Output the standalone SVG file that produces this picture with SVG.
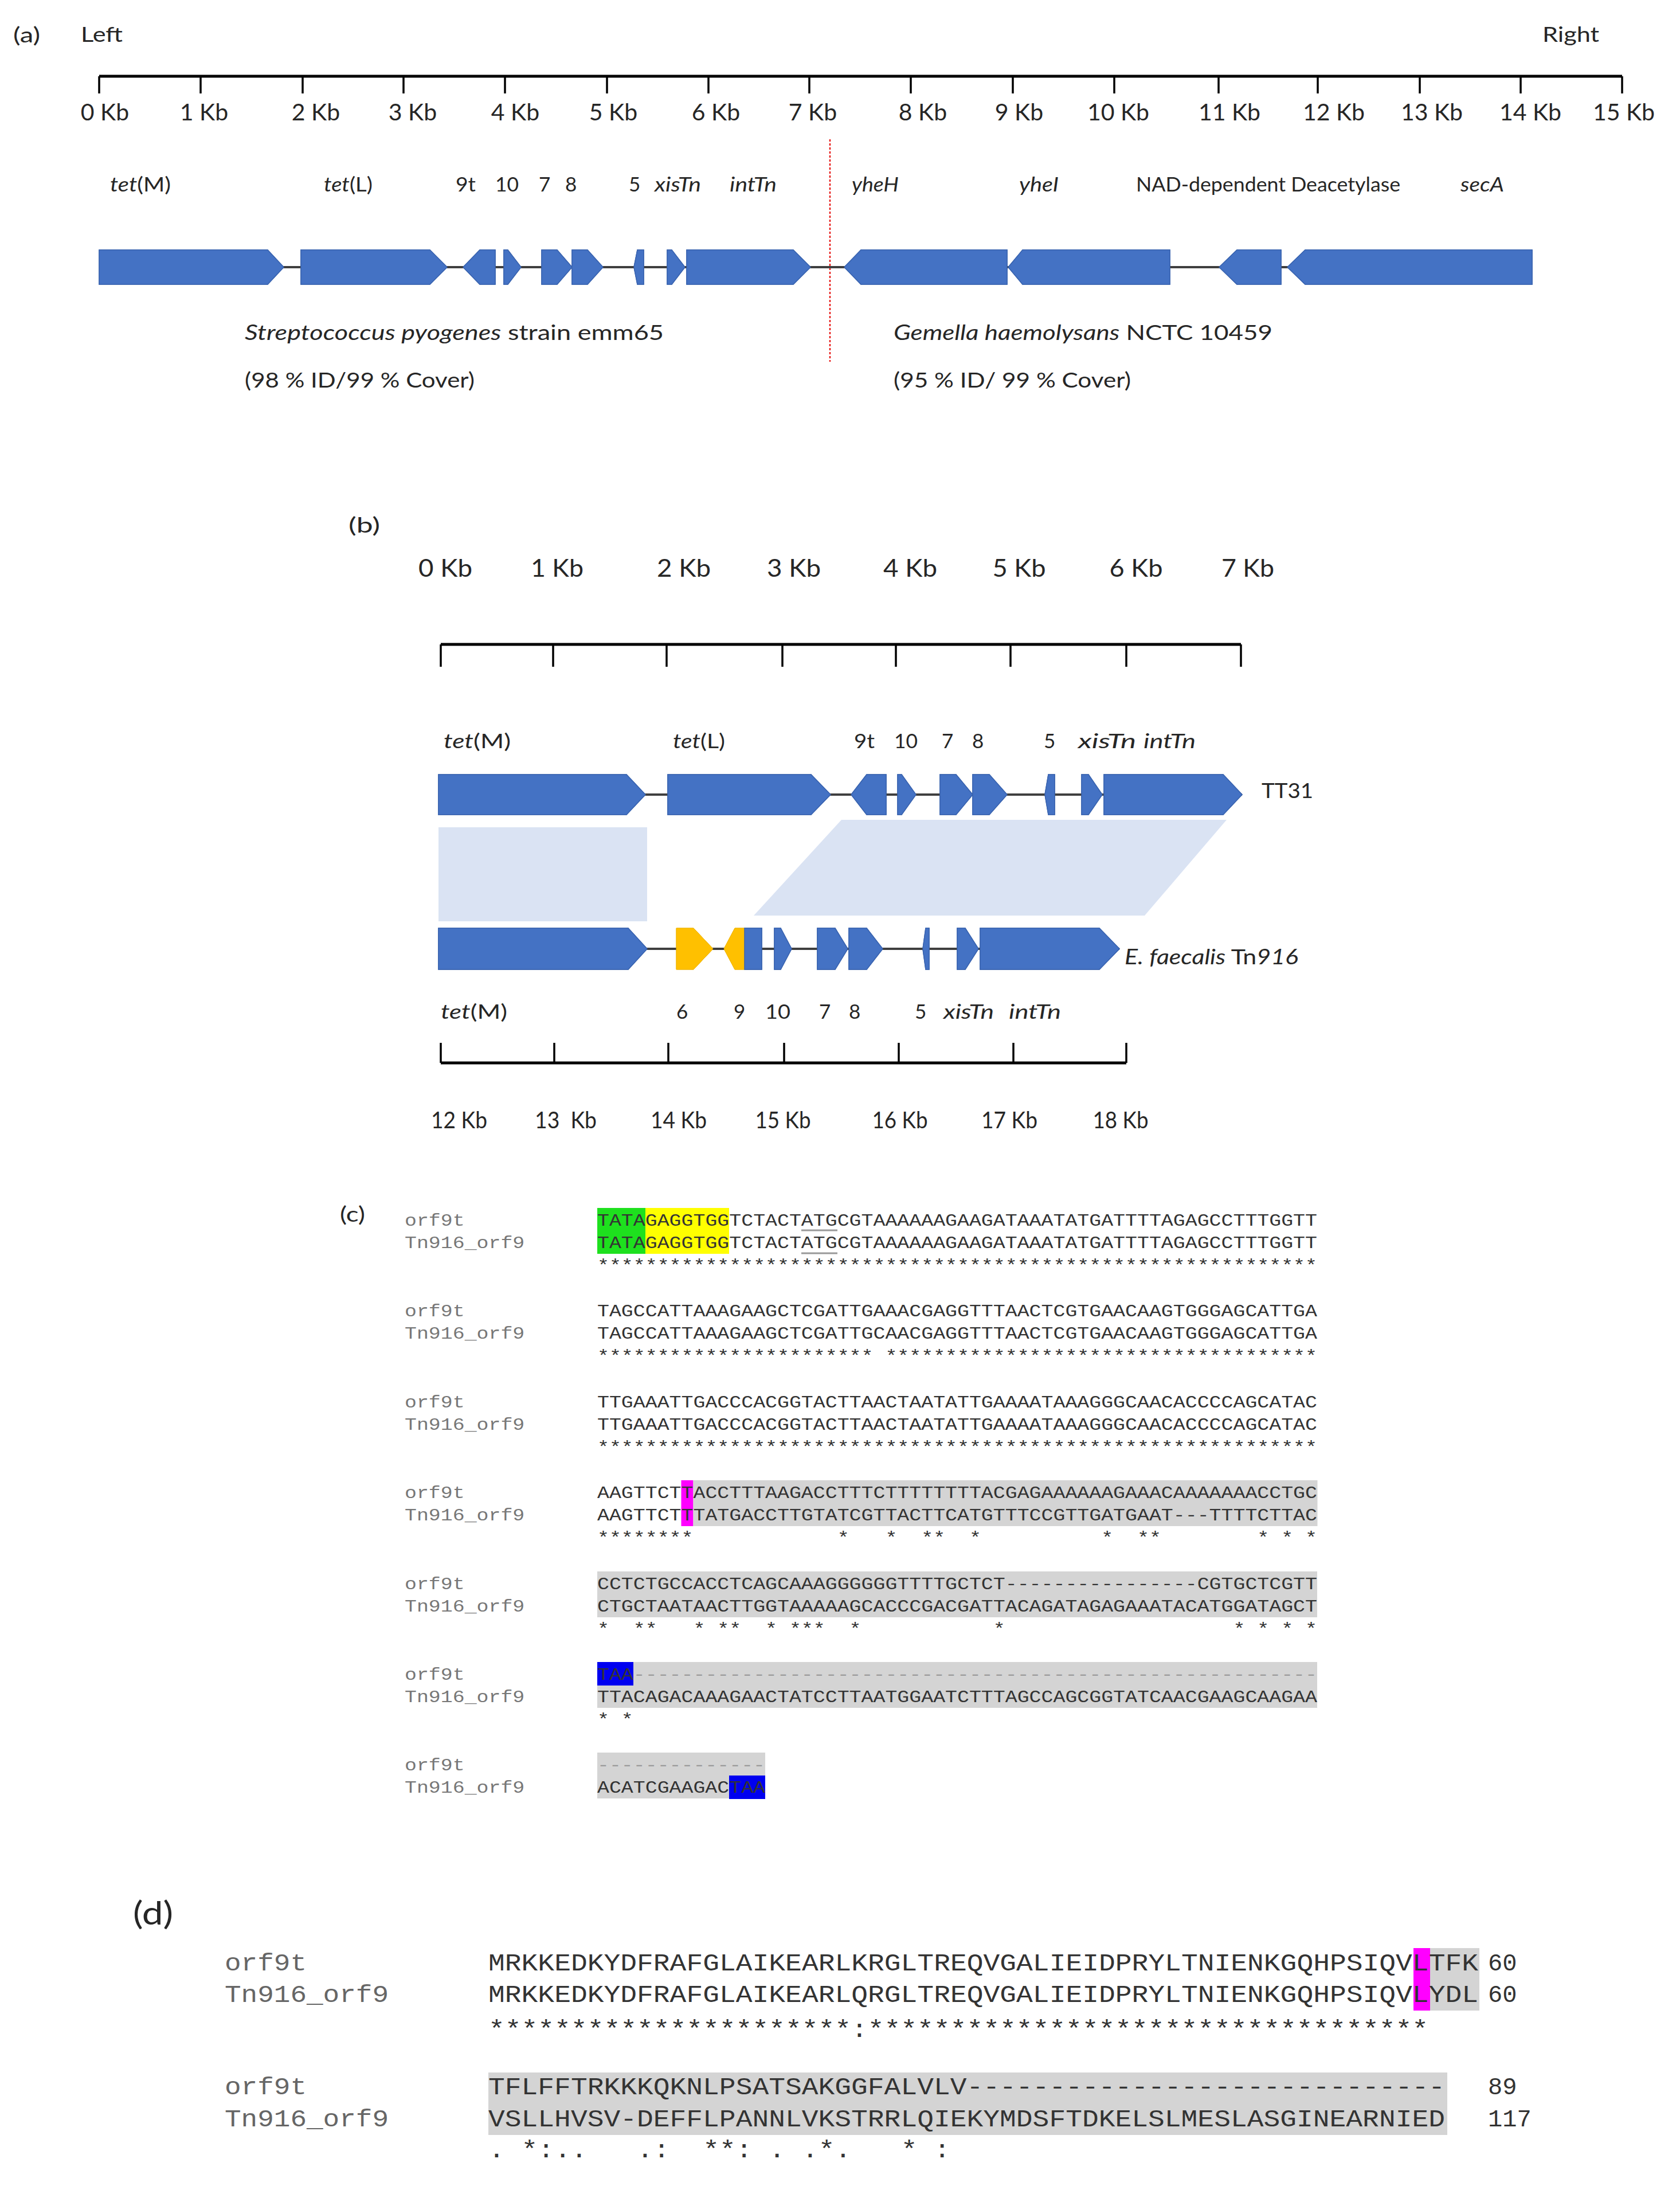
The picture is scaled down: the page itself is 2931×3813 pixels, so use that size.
<svg xmlns="http://www.w3.org/2000/svg" width="2931" height="3813" viewBox="0 0 2931 3813">
<style>
.cal{font-family:Lato,"Open Sans","Liberation Sans",sans-serif;fill:#262626}
.it{font-style:italic}
.kb{font-size:41px;text-anchor:middle}
.kbb{font-size:42px;text-anchor:middle}
.kbc{font-size:40px;text-anchor:middle}
.gl{font-size:35px}
.pl{font-size:37px}
.org{font-size:37px}
.gene{fill:#4472C4;stroke:#3A64B0;stroke-width:1.5}
.yel{fill:#FFC000;stroke:#F0B400;stroke-width:1}
.bb{stroke:#3f3f3f;stroke-width:4}
.axis{stroke:#000;stroke-width:5;fill:none}
.tick{stroke:#000;stroke-width:3.5}
.shade{fill:#DAE3F3}
.mono{font-family:"Liberation Mono","DejaVu Sans Mono",monospace}
.sc{font-size:30px;fill:#333}
.lc{font-size:30px;fill:#777}
.sd{font-size:42px;fill:#333}
.ld{font-size:42px;fill:#666}
.gap{fill:#9a9a9a}
.hgray{fill:#D4D4D4}
</style>
<rect x="0" y="0" width="2931" height="3813" fill="#fff"/>

<!-- ================= PANEL A ================= -->
<g id="panel-a">
  <g id="a-titles" class="cal pl">
    <text x="23" y="74" textLength="47" lengthAdjust="spacingAndGlyphs">(a)</text>
    <text x="141" y="73" textLength="73" lengthAdjust="spacingAndGlyphs">Left</text>
    <text x="2691" y="73" textLength="99" lengthAdjust="spacingAndGlyphs">Right</text>
  </g>
  <g id="a-axis">
    <line class="axis" x1="173" y1="133" x2="2830" y2="133"/>
    <g class="tick">
      <line x1="173" y1="133" x2="173" y2="163"/>
      <line x1="350" y1="133" x2="350" y2="163"/>
      <line x1="528" y1="133" x2="528" y2="163"/>
      <line x1="704" y1="133" x2="704" y2="163"/>
      <line x1="881" y1="133" x2="881" y2="163"/>
      <line x1="1059" y1="133" x2="1059" y2="163"/>
      <line x1="1236" y1="133" x2="1236" y2="163"/>
      <line x1="1412" y1="133" x2="1412" y2="163"/>
      <line x1="1589" y1="133" x2="1589" y2="163"/>
      <line x1="1767" y1="133" x2="1767" y2="163"/>
      <line x1="1944" y1="133" x2="1944" y2="163"/>
      <line x1="2126" y1="133" x2="2126" y2="163"/>
      <line x1="2299" y1="133" x2="2299" y2="163"/>
      <line x1="2477" y1="133" x2="2477" y2="163"/>
      <line x1="2653" y1="133" x2="2653" y2="163"/>
      <line x1="2830" y1="133" x2="2830" y2="163"/>
    </g>
    <g class="cal kb">
      <text x="183" y="210">0 Kb</text>
      <text x="356" y="210">1 Kb</text>
      <text x="551" y="210">2 Kb</text>
      <text x="720" y="210">3 Kb</text>
      <text x="899" y="210">4 Kb</text>
      <text x="1070" y="210">5 Kb</text>
      <text x="1249" y="210">6 Kb</text>
      <text x="1418" y="210">7 Kb</text>
      <text x="1610" y="210">8 Kb</text>
      <text x="1778" y="210">9 Kb</text>
      <text x="1951" y="210">10 Kb</text>
      <text x="2145" y="210">11 Kb</text>
      <text x="2327" y="210">12 Kb</text>
      <text x="2498" y="210">13 Kb</text>
      <text x="2670" y="210">14 Kb</text>
      <text x="2833" y="210">15 Kb</text>
    </g>
  </g>
  <line id="a-junction" x1="1448" y1="243" x2="1448" y2="631" stroke="#E8201E" stroke-width="2.5" stroke-dasharray="4 3"/>
  <g id="a-gene-labels" class="cal gl">
    <text x="192" y="334" textLength="106" lengthAdjust="spacingAndGlyphs"><tspan class="it">tet</tspan>(M)</text>
    <text x="565" y="334" textLength="85" lengthAdjust="spacingAndGlyphs"><tspan class="it">tet</tspan>(L)</text>
    <text x="795" y="334" textLength="35" lengthAdjust="spacingAndGlyphs">9t</text>
    <text x="864" y="334" textLength="41" lengthAdjust="spacingAndGlyphs">10</text>
    <text x="940" y="334">7</text>
    <text x="986" y="334">8</text>
    <text x="1097" y="334">5</text>
    <text x="1142" y="334" textLength="81" lengthAdjust="spacingAndGlyphs" class="it">xisTn</text>
    <text x="1273" y="334" textLength="82" lengthAdjust="spacingAndGlyphs" class="it">intTn</text>
    <text x="1486" y="334" textLength="82" lengthAdjust="spacingAndGlyphs" class="it">yheH</text>
    <text x="1778" y="334" textLength="69" lengthAdjust="spacingAndGlyphs" class="it">yheI</text>
    <text x="1982" y="334" textLength="461" lengthAdjust="spacingAndGlyphs">NAD-dependent Deacetylase</text>
    <text x="2548" y="334" textLength="76" lengthAdjust="spacingAndGlyphs" class="it">secA</text>
  </g>
  <g id="a-genes">
    <path id="a-tetM" class="gene" d="M173,436 L467,436 L495,466 L467,496 L173,496 Z"/>
    <path id="a-tetL" class="gene" d="M525,436 L750,436 L780,466 L750,496 L525,496 Z"/>
    <path id="a-9t" class="gene" d="M808,466 L837,436 L864,436 L864,496 L837,496 Z"/>
    <path id="a-10" class="gene" d="M879,436 L886,436 L909,466 L886,496 L879,496 Z"/>
    <path id="a-7" class="gene" d="M945,436 L972,436 L998,466 L972,496 L945,496 Z"/>
    <path id="a-8" class="gene" d="M998,436 L1025,436 L1052,466 L1025,496 L998,496 Z"/>
    <path id="a-5" class="gene" d="M1106,466 L1112,436 L1123,436 L1123,496 L1112,496 Z"/>
    <path id="a-xisTn" class="gene" d="M1164,436 L1172,436 L1195,466 L1172,496 L1164,496 Z"/>
    <path id="a-intTn" class="gene" d="M1198,436 L1384,436 L1414,466 L1384,496 L1198,496 Z"/>
    <path id="a-yheH" class="gene" d="M1473,466 L1502,436 L1757,436 L1757,496 L1502,496 Z"/>
    <path id="a-yheI" class="gene" d="M1759,466 L1784,436 L2041,436 L2041,496 L1784,496 Z"/>
    <path id="a-NAD" class="gene" d="M2127,466 L2158,436 L2235,436 L2235,496 L2158,496 Z"/>
    <path id="a-secA" class="gene" d="M2246,466 L2277,436 L2673,436 L2673,496 L2277,496 Z"/>
  </g>
  <g id="a-organisms" class="cal org">
    <text x="427" y="593" textLength="731" lengthAdjust="spacingAndGlyphs"><tspan class="it">Streptococcus pyogenes</tspan> strain emm65</text>
    <text x="427" y="676" textLength="401" lengthAdjust="spacingAndGlyphs">(98 % ID/99 % Cover)</text>
    <text x="1559" y="593" textLength="661" lengthAdjust="spacingAndGlyphs"><tspan class="it">Gemella haemolysans</tspan> NCTC 10459</text>
    <text x="1559" y="676" textLength="414" lengthAdjust="spacingAndGlyphs">(95 % ID/ 99 % Cover)</text>
  </g>
</g>

<!-- ================= PANEL B ================= -->
<g id="panel-b">
  <text id="b-title" class="cal pl" x="608" y="929" textLength="55" lengthAdjust="spacingAndGlyphs">(b)</text>
  <g id="b-axis-top">
    <g class="cal kbb">
      <text x="777" y="1006" textLength="94" lengthAdjust="spacingAndGlyphs">0 Kb</text>
      <text x="972" y="1006" textLength="92" lengthAdjust="spacingAndGlyphs">1 Kb</text>
      <text x="1193" y="1006" textLength="94" lengthAdjust="spacingAndGlyphs">2 Kb</text>
      <text x="1385" y="1006" textLength="94" lengthAdjust="spacingAndGlyphs">3 Kb</text>
      <text x="1588" y="1006" textLength="94" lengthAdjust="spacingAndGlyphs">4 Kb</text>
      <text x="1778" y="1006" textLength="93" lengthAdjust="spacingAndGlyphs">5 Kb</text>
      <text x="1982" y="1006" textLength="93" lengthAdjust="spacingAndGlyphs">6 Kb</text>
      <text x="2177" y="1006" textLength="92" lengthAdjust="spacingAndGlyphs">7 Kb</text>
    </g>
    <line class="axis" x1="769" y1="1124" x2="2165" y2="1124"/>
    <g class="tick">
      <line x1="769" y1="1124" x2="769" y2="1163"/>
      <line x1="965" y1="1124" x2="965" y2="1163"/>
      <line x1="1163" y1="1124" x2="1163" y2="1163"/>
      <line x1="1365" y1="1124" x2="1365" y2="1163"/>
      <line x1="1563" y1="1124" x2="1563" y2="1163"/>
      <line x1="1763" y1="1124" x2="1763" y2="1163"/>
      <line x1="1965" y1="1124" x2="1965" y2="1163"/>
      <line x1="2165" y1="1124" x2="2165" y2="1163"/>
    </g>
  </g>
  <g id="b-tt31-labels" class="cal gl">
    <text x="774" y="1305" textLength="117" lengthAdjust="spacingAndGlyphs"><tspan class="it">tet</tspan>(M)</text>
    <text x="1174" y="1305" textLength="91" lengthAdjust="spacingAndGlyphs"><tspan class="it">tet</tspan>(L)</text>
    <text x="1490" y="1305" textLength="36" lengthAdjust="spacingAndGlyphs">9t</text>
    <text x="1560" y="1305" textLength="41" lengthAdjust="spacingAndGlyphs">10</text>
    <text x="1643" y="1305">7</text>
    <text x="1696" y="1305">8</text>
    <text x="1821" y="1305">5</text>
    <text x="1881" y="1305" textLength="101" lengthAdjust="spacingAndGlyphs" class="it">xisTn</text>
    <text x="1995" y="1305" textLength="91" lengthAdjust="spacingAndGlyphs" class="it">intTn</text>
  </g>
  <g id="b-tt31-genes">
    <path class="gene" d="M765,1351 L1093,1351 L1126,1386 L1093,1421 L765,1421 Z"/>
    <path class="gene" d="M1165,1351 L1415,1351 L1449,1386 L1415,1421 L1165,1421 Z"/>
    <path class="gene" d="M1485,1386 L1512,1351 L1546,1351 L1546,1421 L1512,1421 Z"/>
    <path class="gene" d="M1566,1351 L1573,1351 L1598,1386 L1573,1421 L1566,1421 Z"/>
    <path class="gene" d="M1640,1351 L1668,1351 L1697,1386 L1668,1421 L1640,1421 Z"/>
    <path class="gene" d="M1697,1351 L1726,1351 L1757,1386 L1726,1421 L1697,1421 Z"/>
    <path class="gene" d="M1823,1386 L1829,1351 L1840,1351 L1840,1421 L1829,1421 Z"/>
    <path class="gene" d="M1887,1351 L1899,1351 L1923,1386 L1899,1421 L1887,1421 Z"/>
    <path class="gene" d="M1926,1351 L2134,1351 L2167,1386 L2134,1421 L1926,1421 Z"/>
  </g>
  <text id="b-tt31-name" class="cal pl" x="2201" y="1392" textLength="90" lengthAdjust="spacingAndGlyphs">TT31</text>
  <g id="b-tn916-genes">
    <path class="gene" d="M765,1619 L1096,1619 L1129,1655 L1096,1691 L765,1691 Z"/>
    <path class="yel" d="M1180,1619 L1210,1619 L1244,1655 L1210,1691 L1180,1691 Z"/>
    <path class="yel" d="M1263,1655 L1282,1619 L1299,1619 L1299,1691 L1282,1691 Z"/>
    <rect class="gene" x="1299" y="1619" width="30" height="72"/>
    <path class="gene" d="M1351,1619 L1362,1619 L1381,1655 L1362,1691 L1351,1691 Z"/>
    <path class="gene" d="M1426,1619 L1457,1619 L1479,1655 L1457,1691 L1426,1691 Z"/>
    <path class="gene" d="M1481,1619 L1512,1619 L1540,1655 L1512,1691 L1481,1691 Z"/>
    <path class="gene" d="M1610,1655 L1615,1619 L1621,1619 L1621,1691 L1615,1691 Z"/>
    <path class="gene" d="M1670,1619 L1684,1619 L1707,1655 L1684,1691 L1670,1691 Z"/>
    <path class="gene" d="M1710,1619 L1918,1619 L1953,1655 L1918,1691 L1710,1691 Z"/>
  </g>
  <text id="b-tn916-name" class="cal pl" x="1962" y="1682" textLength="303" lengthAdjust="spacingAndGlyphs"><tspan class="it">E. faecalis</tspan> Tn<tspan class="it">916</tspan></text>
  <g id="b-tn916-labels" class="cal gl">
    <text x="769" y="1777" textLength="116" lengthAdjust="spacingAndGlyphs"><tspan class="it">tet</tspan>(M)</text>
    <text x="1180" y="1777">6</text>
    <text x="1280" y="1777">9</text>
    <text x="1335" y="1777" textLength="44" lengthAdjust="spacingAndGlyphs">10</text>
    <text x="1429" y="1777">7</text>
    <text x="1481" y="1777">8</text>
    <text x="1596" y="1777">5</text>
    <text x="1646" y="1777" textLength="88" lengthAdjust="spacingAndGlyphs" class="it">xisTn</text>
    <text x="1760" y="1777" textLength="91" lengthAdjust="spacingAndGlyphs" class="it">intTn</text>
  </g>
  <g id="b-axis-bottom">
    <line class="axis" x1="769" y1="1854" x2="1965" y2="1854"/>
    <g class="tick">
      <line x1="769" y1="1819" x2="769" y2="1854"/>
      <line x1="967" y1="1819" x2="967" y2="1854"/>
      <line x1="1166" y1="1819" x2="1166" y2="1854"/>
      <line x1="1368" y1="1819" x2="1368" y2="1854"/>
      <line x1="1568" y1="1819" x2="1568" y2="1854"/>
      <line x1="1768" y1="1819" x2="1768" y2="1854"/>
      <line x1="1965" y1="1819" x2="1965" y2="1854"/>
    </g>
    <g class="cal kbc">
      <text x="801" y="1968" textLength="98" lengthAdjust="spacingAndGlyphs">12 Kb</text>
      <text x="987" y="1968" textLength="108" lengthAdjust="spacingAndGlyphs" xml:space="preserve">13  Kb</text>
      <text x="1184" y="1968" textLength="98" lengthAdjust="spacingAndGlyphs">14 Kb</text>
      <text x="1366" y="1968" textLength="97" lengthAdjust="spacingAndGlyphs">15 Kb</text>
      <text x="1570" y="1968" textLength="97" lengthAdjust="spacingAndGlyphs">16 Kb</text>
      <text x="1761" y="1968" textLength="98" lengthAdjust="spacingAndGlyphs">17 Kb</text>
      <text x="1955" y="1968" textLength="97" lengthAdjust="spacingAndGlyphs">18 Kb</text>
    </g>
  </g>
</g>

<!-- connectors: backbones and homology shading -->
<g id="connectors">
  <line class="bb" x1="173" y1="466" x2="2673" y2="466"/>
  <line class="bb" x1="765" y1="1386" x2="2167" y2="1386"/>
  <line class="bb" x1="765" y1="1655" x2="1953" y2="1655"/>
  <rect class="shade" x="765" y="1443" width="364" height="164"/>
  <polygon class="shade" points="1468,1430 2140,1430 1997,1597 1315,1597"/>
</g>

<!-- genes drawn above backbone -->
<use href="#a-genes"/>
<use href="#b-tt31-genes"/>
<use href="#b-tn916-genes"/>

<!-- ================= PANEL C ================= -->
<g id="panel-c">
  <text id="c-title" class="cal pl" x="593" y="2131" textLength="44" lengthAdjust="spacingAndGlyphs">(c)</text>
  <g id="c-highlights">
    <rect x="1042" y="2107" width="84" height="80" fill="#1EE01E"/>
    <rect x="1126" y="2107" width="146" height="80" fill="#FFFF00"/>
    <rect x="1188.5" y="2582" width="21" height="80" fill="#FF00FF"/>
    <rect class="hgray" x="1209.5" y="2582" width="1089" height="80"/>
    <rect class="hgray" x="1042" y="2741" width="1256" height="80"/>
    <rect class="hgray" x="1042" y="2899" width="1256" height="80"/>
    <rect x="1042" y="2899" width="63" height="41" fill="#0000F0"/>
    <rect class="hgray" x="1042" y="3057" width="293" height="80"/>
    <rect x="1272" y="3097" width="63" height="41" fill="#0000F0"/>
    <line x1="1398" y1="2146" x2="1461" y2="2146" stroke="#999" stroke-width="3"/>
    <line x1="1398" y1="2186" x2="1461" y2="2186" stroke="#999" stroke-width="3"/>
  </g>
  <g id="c-names" class="mono lc">
    <text x="706" y="2138" textLength="104.6" lengthAdjust="spacingAndGlyphs">orf9t</text>
    <text x="706" y="2177" textLength="209.3" lengthAdjust="spacingAndGlyphs">Tn916_orf9</text>
    <text x="706" y="2296" textLength="104.6" lengthAdjust="spacingAndGlyphs">orf9t</text>
    <text x="706" y="2335" textLength="209.3" lengthAdjust="spacingAndGlyphs">Tn916_orf9</text>
    <text x="706" y="2455" textLength="104.6" lengthAdjust="spacingAndGlyphs">orf9t</text>
    <text x="706" y="2494" textLength="209.3" lengthAdjust="spacingAndGlyphs">Tn916_orf9</text>
    <text x="706" y="2613" textLength="104.6" lengthAdjust="spacingAndGlyphs">orf9t</text>
    <text x="706" y="2652" textLength="209.3" lengthAdjust="spacingAndGlyphs">Tn916_orf9</text>
    <text x="706" y="2772" textLength="104.6" lengthAdjust="spacingAndGlyphs">orf9t</text>
    <text x="706" y="2811" textLength="209.3" lengthAdjust="spacingAndGlyphs">Tn916_orf9</text>
    <text x="706" y="2930" textLength="104.6" lengthAdjust="spacingAndGlyphs">orf9t</text>
    <text x="706" y="2969" textLength="209.3" lengthAdjust="spacingAndGlyphs">Tn916_orf9</text>
    <text x="706" y="3088" textLength="104.6" lengthAdjust="spacingAndGlyphs">orf9t</text>
    <text x="706" y="3127" textLength="209.3" lengthAdjust="spacingAndGlyphs">Tn916_orf9</text>
  </g>
  <g id="c-seqs" class="mono sc">
    <text x="1042" y="2138" textLength="1256" lengthAdjust="spacingAndGlyphs">TATAGAGGTGGTCTACTATGCGTAAAAAAGAAGATAAATATGATTTTAGAGCCTTTGGTT</text>
    <text x="1042" y="2177" textLength="1256" lengthAdjust="spacingAndGlyphs">TATAGAGGTGGTCTACTATGCGTAAAAAAGAAGATAAATATGATTTTAGAGCCTTTGGTT</text>
    <text x="1042" y="2217" textLength="1256" lengthAdjust="spacingAndGlyphs">************************************************************</text>
    <text x="1042" y="2296" textLength="1256" lengthAdjust="spacingAndGlyphs">TAGCCATTAAAGAAGCTCGATTGAAACGAGGTTTAACTCGTGAACAAGTGGGAGCATTGA</text>
    <text x="1042" y="2335" textLength="1256" lengthAdjust="spacingAndGlyphs">TAGCCATTAAAGAAGCTCGATTGCAACGAGGTTTAACTCGTGAACAAGTGGGAGCATTGA</text>
    <text x="1042" y="2375" textLength="1256" lengthAdjust="spacingAndGlyphs" xml:space="preserve">*********************** ************************************</text>
    <text x="1042" y="2455" textLength="1256" lengthAdjust="spacingAndGlyphs">TTGAAATTGACCCACGGTACTTAACTAATATTGAAAATAAAGGGCAACACCCCAGCATAC</text>
    <text x="1042" y="2494" textLength="1256" lengthAdjust="spacingAndGlyphs">TTGAAATTGACCCACGGTACTTAACTAATATTGAAAATAAAGGGCAACACCCCAGCATAC</text>
    <text x="1042" y="2534" textLength="1256" lengthAdjust="spacingAndGlyphs">************************************************************</text>
    <text x="1042" y="2613" textLength="1256" lengthAdjust="spacingAndGlyphs">AAGTTCTTACCTTTAAGACCTTTCTTTTTTTTACGAGAAAAAAGAAACAAAAAAACCTGC</text>
    <text x="1042" y="2652" textLength="1256" lengthAdjust="spacingAndGlyphs">AAGTTCTTTATGACCTTGTATCGTTACTTCATGTTTCCGTTGATGAAT---TTTTCTTAC</text>
    <text x="1042" y="2692" textLength="1256" lengthAdjust="spacingAndGlyphs" xml:space="preserve">********            *   *  **  *          *  **        * * *</text>
    <text x="1042" y="2772" textLength="1256" lengthAdjust="spacingAndGlyphs">CCTCTGCCACCTCAGCAAAGGGGGGTTTTGCTCT----------------CGTGCTCGTT</text>
    <text x="1042" y="2811" textLength="1256" lengthAdjust="spacingAndGlyphs">CTGCTAATAACTTGGTAAAAAGCACCCGACGATTACAGATAGAGAAATACATGGATAGCT</text>
    <text x="1042" y="2851" textLength="1256" lengthAdjust="spacingAndGlyphs" xml:space="preserve">*  **   * **  * ***  *           *                   * * * *</text>
    <text x="1042" y="2930" textLength="1256" lengthAdjust="spacingAndGlyphs">TAA<tspan class="gap">---------------------------------------------------------</tspan></text>
    <text x="1042" y="2969" textLength="1256" lengthAdjust="spacingAndGlyphs">TTACAGACAAAGAACTATCCTTAATGGAATCTTTAGCCAGCGGTATCAACGAAGCAAGAA</text>
    <text x="1042" y="3009" textLength="62.8" lengthAdjust="spacingAndGlyphs" xml:space="preserve">* *</text>
    <text x="1042" y="3088" textLength="293" lengthAdjust="spacingAndGlyphs" class="gap">--------------</text>
    <text x="1042" y="3127" textLength="293" lengthAdjust="spacingAndGlyphs">ACATCGAAGACTAA</text>
  </g>
</g>

<!-- ================= PANEL D ================= -->
<g id="panel-d">
  <text id="d-title" class="cal" font-size="56" x="232" y="3357" textLength="70" lengthAdjust="spacingAndGlyphs">(d)</text>
  <g id="d-highlights">
    <rect x="2466" y="3398" width="29" height="109" fill="#FF00FF"/>
    <rect class="hgray" x="2495" y="3398" width="86" height="109"/>
    <rect class="hgray" x="852" y="3615" width="1673" height="109"/>
  </g>
  <g id="d-names" class="mono ld">
    <text x="392" y="3437" textLength="143" lengthAdjust="spacingAndGlyphs">orf9t</text>
    <text x="392" y="3492" textLength="286" lengthAdjust="spacingAndGlyphs">Tn916_orf9</text>
    <text x="392" y="3653" textLength="143" lengthAdjust="spacingAndGlyphs">orf9t</text>
    <text x="392" y="3709" textLength="286" lengthAdjust="spacingAndGlyphs">Tn916_orf9</text>
  </g>
  <g id="d-seqs" class="mono sd">
    <text x="852" y="3437" textLength="1727" lengthAdjust="spacingAndGlyphs">MRKKEDKYDFRAFGLAIKEARLKRGLTREQVGALIEIDPRYLTNIENKGQHPSIQVLTFK</text>
    <text x="852" y="3492" textLength="1727" lengthAdjust="spacingAndGlyphs">MRKKEDKYDFRAFGLAIKEARLQRGLTREQVGALIEIDPRYLTNIENKGQHPSIQVLYDL</text>
    <text x="852" y="3553" textLength="1640" lengthAdjust="spacingAndGlyphs">**********************:**********************************</text>
    <text x="2596" y="3437">60</text>
    <text x="2596" y="3492">60</text>
    <text x="852" y="3653" textLength="1669" lengthAdjust="spacingAndGlyphs">TFLFFTRKKKQKNLPSATSAKGGFALVLV-----------------------------</text>
    <text x="852" y="3709" textLength="1669" lengthAdjust="spacingAndGlyphs">VSLLHVSV-DEFFLPANNLVKSTRRLQIEKYMDSFTDKELSLMESLASGINEARNIED</text>
    <text x="852" y="3763" textLength="806" lengthAdjust="spacingAndGlyphs" xml:space="preserve">. *:..   .:  **: . .*.   * :</text>
    <text x="2596" y="3653">89</text>
    <text x="2596" y="3709">117</text>
  </g>
</g>
</svg>
